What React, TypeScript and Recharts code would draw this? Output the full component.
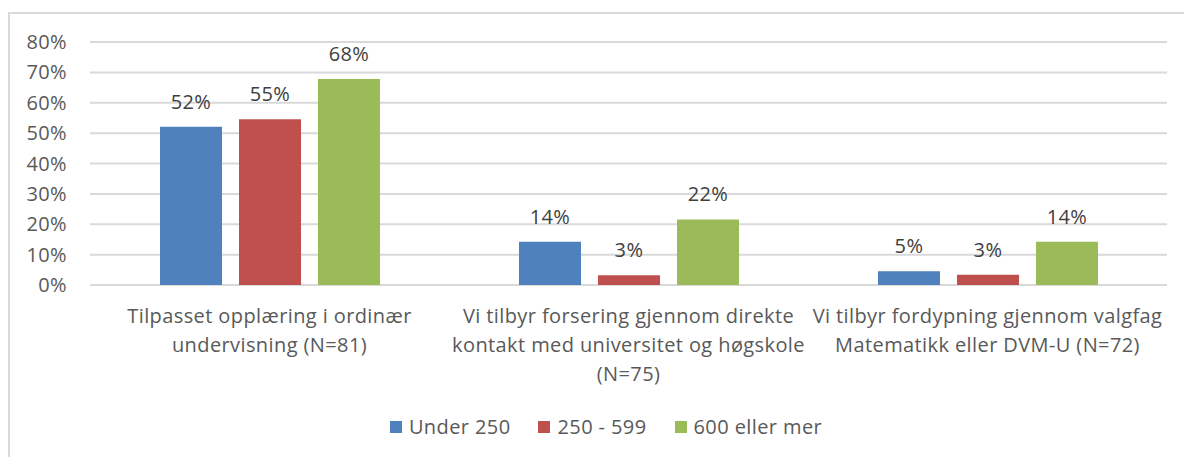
import { BarChart, Bar, XAxis, YAxis, CartesianGrid, Legend, LabelList } from "recharts";

const categories = [
  "Tilpasset opplæring i ordinær\nundervisning (N=81)",
  "Vi tilbyr forsering gjennom direkte\nkontakt med universitet og høgskole\n(N=75)",
  "Vi tilbyr fordypning gjennom valgfag\nMatematikk eller DVM-U (N=72)",
];
const under250 = [52.1, 14.2, 4.5];
const mid250to599 = [54.6, 3.2, 3.4];
const over600 = [67.8, 21.6, 14.2];
const yTicks = [0, 10, 20, 30, 40, 50, 60, 70, 80];

const seriesNames = ["Under 250", "250 - 599", "600 eller mer"];
const colors = ["#4F81BD", "#C0504D", "#9BBB59"];

const data = categories.map((c, i) => ({
  category: c,
  s0: under250[i],
  s1: mid250to599[i],
  s2: over600[i],
}));

const FONT = "'Open Sans', 'Noto Sans', sans-serif";
const FS = 20;
const LS = 0.4;

function CategoryTick(props: any) {
  const { x, y, payload } = props;
  const lines = String(payload.value).split("\n");
  return (
    <text x={x} y={y} textAnchor="middle" fill="#595959" fontSize={FS} letterSpacing={LS} fontFamily={FONT}>
      {lines.map((l, i) => (
        <tspan key={i} x={x} y={y + 38 + i * 29}>
          {l}
        </tspan>
      ))}
    </text>
  );
}

// legend drawn from the series arrays so the order stays as in the source
function LegendContent() {
  return (
    <div style={{ display: "flex", justifyContent: "center", alignItems: "center", paddingLeft: 28, fontFamily: FONT, fontSize: FS, letterSpacing: LS, color: "#595959" }}>
      {seriesNames.map((name, i) => (
        <div key={name} style={{ display: "flex", alignItems: "center", marginLeft: i === 0 ? 0 : 28 }}>
          <span style={{ width: 12, height: 12, background: colors[i], display: "inline-block", marginRight: 7 }} />
          <span>{name}</span>
        </div>
      ))}
    </div>
  );
}

export default function App() {
  return (
    <div style={{ position: "absolute", left: 0, top: 0, width: 1184, height: 457, background: "#fff", overflow: "hidden" }}>
      <div
        style={{
          position: "absolute",
          left: 8,
          top: 12,
          width: 1200,
          height: 460,
          borderTop: "2px solid #d9d9d9",
          borderLeft: "2px solid #d9d9d9",
        }}
      />
      <BarChart
        width={1184}
        height={457}
        data={data}
        margin={{ top: 42, right: 17, bottom: 72, left: 0 }}
        barSize={62}
        barGap={17}
      >
        <CartesianGrid vertical={false} stroke="#d9d9d9" strokeWidth={2} />
        <XAxis
          dataKey="category"
          axisLine={false}
          tickLine={false}
          tickSize={0}
          tickMargin={0}
          height={100}
          interval={0}
          tick={<CategoryTick />}
        />
        <YAxis
          domain={[0, 80]}
          ticks={yTicks}
          interval={0}
          width={90}
          axisLine={false}
          tickLine={false}
          tickSize={0}
          tickMargin={23}
          tickFormatter={(v: number) => `${v}%`}
          tick={{ fill: "#595959", fontSize: FS, fontFamily: FONT, letterSpacing: LS }}
        />
        <Legend verticalAlign="middle" align="center" wrapperStyle={{ top: 413, left: 0, width: 1184 }} content={<LegendContent />} />
        {["s0", "s1", "s2"].map((k, i) => (
          <Bar key={k} dataKey={k} name={seriesNames[i]} fill={colors[i]} isAnimationActive={false}>
            <LabelList
              dataKey={k}
              position="top"
              offset={18}
              formatter={(v: any) => `${Math.round(Number(v))}%`}
              style={{ fill: "#404040", fontSize: FS, fontFamily: FONT, letterSpacing: LS }}
            />
          </Bar>
        ))}
      </BarChart>
    </div>
  );
}
